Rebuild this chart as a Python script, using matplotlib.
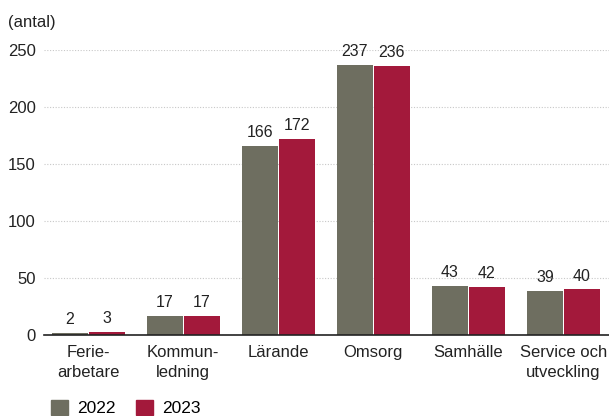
import numpy as np
import matplotlib.pyplot as plt
from matplotlib.patches import Patch

plt.rcParams['font.family'] = ['Liberation Sans', 'DejaVu Sans']

categories = ['Ferie-\narbetare', 'Kommun-\nledning', 'Lärande', 'Omsorg', 'Samhälle', 'Service och\nutveckling']
v2022 = [2, 17, 166, 237, 43, 39]
v2023 = [3, 17, 172, 236, 42, 40]
yticks = [0, 50, 100, 150, 200, 250]

c22 = '#6E6E60'
c23 = '#A3193B'

fig = plt.figure(figsize=(6.09, 4.16), dpi=100)
ax = fig.add_axes([44/609, 1-335/416, 565/609, 285/416])

x = np.arange(len(categories))
w = 0.38
b1 = ax.bar(x - w/2 - 0.005, v2022, w, color=c22)
b2 = ax.bar(x + w/2 + 0.005, v2023, w, color=c23)

for bars, vals in ((b1, v2022), (b2, v2023)):
    for r, v in zip(bars, vals):
        ax.text(r.get_x() + r.get_width()/2, v + 5, str(v), ha='center', va='bottom',
                fontsize=11.5, color='#222222')

ax.set_xlim(-0.465, 5.48)
ax.set_ylim(0, 250)
ax.set_yticks(yticks)
ax.set_yticklabels([str(t) for t in yticks], fontsize=12, color='#222222')
ax.set_xticks(x)
ax.set_xticklabels(categories, fontsize=12, color='#222222', linespacing=1.45)
ax.tick_params(axis='x', length=0, pad=7)
ax.tick_params(axis='y', length=0, pad=6)
ax.yaxis.grid(True, linestyle=(0, (1, 1.5)), color='#c8c8c8', linewidth=0.8)
ax.set_axisbelow(True)
for s in ['top', 'right', 'left']:
    ax.spines[s].set_visible(False)
ax.spines['bottom'].set_color('#222222')
ax.spines['bottom'].set_linewidth(1.2)

fig.text(8/609, 1-22/416, '(antal)', fontsize=12, color='#222222', va='center')

handles = [Patch(color=c22, label='2022'), Patch(color=c23, label='2023')]
fig.legend(handles=handles, loc='lower left', bbox_to_anchor=(35/609, -16/416), ncol=2,
           frameon=False, fontsize=12.5, handlelength=1.0, handleheight=1.0,
           columnspacing=1.2, handletextpad=0.5)

fig.savefig('out.png', dpi=100)
